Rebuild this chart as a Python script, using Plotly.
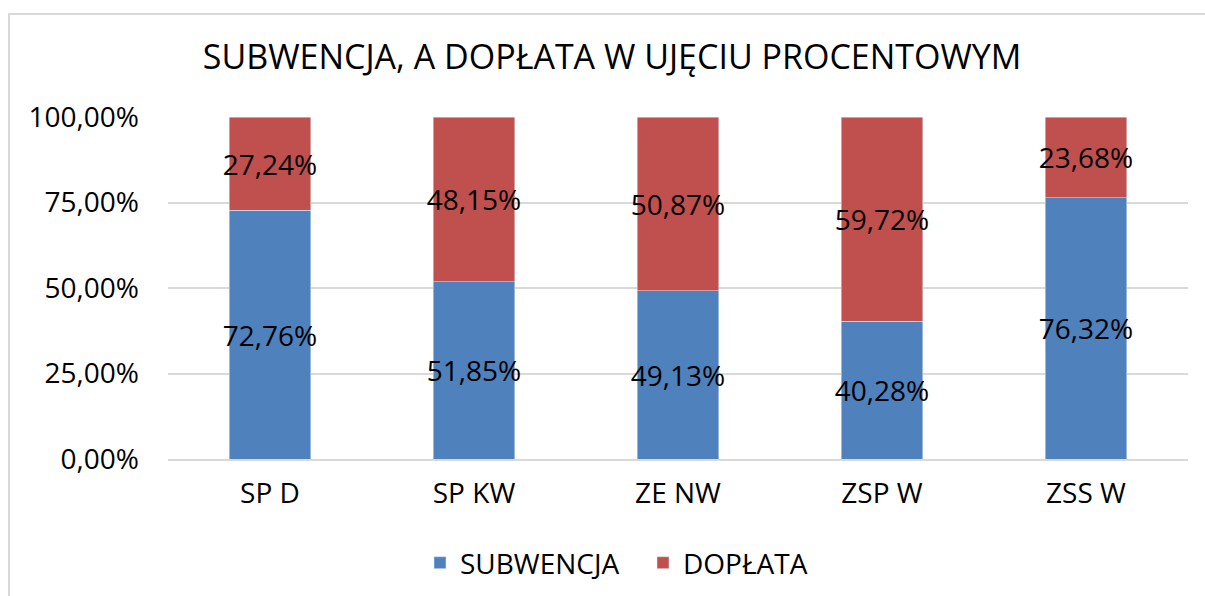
import plotly.graph_objects as go

categories = ["SP D", "SP KW", "ZE NW", "ZSP W", "ZSS W"]
subwencja = [72.76, 51.85, 49.13, 40.28, 76.32]
doplata = [27.24, 48.15, 50.87, 59.72, 23.68]
tick_vals = [0, 25, 50, 75, 100]
tick_text = ["0,00%", "25,00%", "50,00%", "75,00%", "100,00%"]

FONT = "Open Sans"
BLUE = "#4f81bd"
RED = "#c0504d"

def fmt(v):
    return f"{v:.2f}".replace(".", ",") + "%"

fig = go.Figure()
for vals, name, col in [(subwencja, "SUBWENCJA", BLUE), (doplata, "DOPŁATA", RED)]:
    fig.add_trace(go.Bar(
        x=categories, y=vals, name=name, marker_color=col,
        text=[fmt(v) for v in vals], textposition="inside", textangle=0,
        insidetextanchor="middle", constraintext="none",
        textfont=dict(family=FONT, size=28, color="black"),
    ))

W, H = 1205, 596
l, r, t, b = 168, 17, 117, 137
pw, ph = W - l - r, H - t - b

fig.update_layout(
    width=W, height=H, barmode="stack", bargap=0.6,
    paper_bgcolor="white", plot_bgcolor="white",
    margin=dict(l=l, r=r, t=t, b=b, autoexpand=False),
    font=dict(family=FONT, size=28, color="black"),
    title=dict(text="SUBWENCJA, A DOPŁATA W UJĘCIU PROCENTOWYM",
               x=0.508, xanchor="center", xref="container",
               y=1 - 57 / H, yanchor="middle", yref="container",
               font=dict(family=FONT, size=34, color="black")),
    uniformtext=dict(minsize=28, mode="show"),
    legend=dict(orientation="h", xref="container", yref="container",
                x=(433 - 13) / W, xanchor="left", y=1 - 563 / H, yanchor="middle",
                font=dict(family=FONT, size=28), itemwidth=30,
                entrywidth=178, entrywidthmode="pixels",
                traceorder="normal"),
    showlegend=True,
)
fig.update_yaxes(range=[0, 100], tickvals=tick_vals, ticktext=tick_text,
                 showgrid=True, gridcolor="#d9d9d9", gridwidth=1.5,
                 zeroline=False, showline=False, ticks="",
                 ticklabelstandoff=28, tickfont=dict(family=FONT, size=28))
fig.update_xaxes(showline=True, linecolor="#d9d9d9", linewidth=1.5,
                 ticks="", ticklabelstandoff=9,
                 tickfont=dict(family=FONT, size=28))

# outer chart border
fig.add_shape(type="rect", xref="paper", yref="paper",
              x0=(9 - l) / pw, x1=(W + 5 - l) / pw,
              y0=(H - (H + 5) - b) / ph, y1=(H - 14 - b) / ph,
              line=dict(color="#d9d9d9", width=2), fillcolor="rgba(0,0,0,0)",
              layer="below")

fig.write_html("out.html", config={"displayModeBar": False})
with open("out.html", encoding="utf-8") as f:
    html = f.read()
html = html.replace("<body>", '<body style="margin:0;overflow:hidden">', 1)
with open("out.html", "w", encoding="utf-8") as f:
    f.write(html)
